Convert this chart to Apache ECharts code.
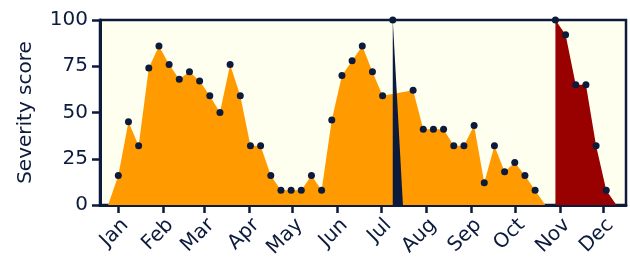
<!DOCTYPE html>
<html>
<head>
<meta charset="utf-8">
<script src="https://cdn.jsdelivr.net/npm/echarts@6/dist/echarts.min.js"></script>
<style>
  html, body { margin: 0; padding: 0; background: #ffffff; }
  #chart { width: 630px; height: 259px; }
</style>
</head>
<body>
<div id="chart"></div>
<script>
// weekly severity scores, week 0 = 1 Jan
const yearStart = new Date(2023, 0, 1).getTime();
const DAY = 24 * 3600 * 1000;

// weeks 0-41 (null where the spike takes over)
const regularScores = [16, 45, 32, 74, 86, 76, 68, 72, 67, 59, 50, 76, 59, 32, 32, 16, 8, 8, 8, 16, 8,
  46, 70, 78, 86, 72, 59, null, null, 62, 41, 41, 41, 32, 32, 43, 12, 32, 18, 23, 16, 8];
// single week spike, week 27
const spikeStart = 27;
const spikeScores = [100];
// late season, weeks 43-48
const lateStart = 43;
const lateScores = [100, 92, 65, 65, 32, 8];

const monthNames = ['Jan', 'Feb', 'Mar', 'Apr', 'May', 'Jun', 'Jul', 'Aug', 'Sep', 'Oct', 'Nov', 'Dec'];
const yTicks = [0, 25, 50, 75, 100];

const navy = '#0c1a3c';
const wk = i => yearStart + i * 7 * DAY;

// build [time, value] pairs
const regularData = [[wk(-1), 0]];
const dots = [];
regularScores.forEach((v, i) => {
  if (v !== null) { regularData.push([wk(i), v]); dots.push([wk(i), v]); }
});
regularData.push([wk(regularScores.length), 0]);

const spikeData = spikeScores.map((v, i) => [wk(spikeStart + i), v]);
spikeData.forEach(p => dots.push(p));
spikeData.push([wk(spikeStart + spikeScores.length), 0]);

const lateData = lateScores.map((v, i) => [wk(lateStart + i), v]);
lateData.forEach(p => dots.push(p));
lateData.push([wk(lateStart + lateScores.length), 0]);

const chart = echarts.init(document.getElementById('chart'));

function areaSeries(data, color) {
  return {
    type: 'line',
    data: data,
    showSymbol: false,
    symbol: 'none',
    lineStyle: { width: 0 },
    areaStyle: { color: color, opacity: 1 },
    silent: true,
    animation: false
  };
}

const font = 'DejaVu Sans';

chart.setOption({
  animation: false,
  grid: {
    left: 100, right: 4, top: 20, bottom: 54,
    outerBoundsMode: 'none',
    containLabel: false,
    show: true,
    backgroundColor: '#fffff0',
    borderColor: navy,
    borderWidth: 2.5
  },
  xAxis: {
    type: 'time',
    min: yearStart - 12.6 * DAY,
    max: yearStart + 349.6 * DAY,
    minInterval: 28 * DAY,
    maxInterval: 31 * DAY,
    splitLine: { show: false },
    axisLine: { lineStyle: { color: navy, width: 3 } },
    axisTick: { show: true, length: 8, lineStyle: { color: navy, width: 2.5 } },
    axisLabel: {
      rotate: 45,
      margin: 10,
      verticalAlign: 'top',
      color: navy,
      fontFamily: font,
      fontSize: 20,
      hideOverlap: false,
      formatter: v => monthNames[new Date(v).getMonth()]
    }
  },
  yAxis: {
    type: 'value',
    min: 0,
    max: 100,
    interval: 25,
    name: 'Severity score',
    nameLocation: 'middle',
    nameGap: 64,
    nameTextStyle: { color: navy, fontFamily: font, fontSize: 20 },
    splitLine: { show: false },
    axisLine: { show: true, lineStyle: { color: navy, width: 3 } },
    axisTick: { show: true, length: 8, lineStyle: { color: navy, width: 2.5 } },
    axisLabel: {
      margin: 12,
      color: navy,
      fontFamily: font,
      fontSize: 20,
      formatter: v => yTicks.includes(v) ? String(v) : ''
    }
  },
  series: [
    areaSeries(regularData, '#ff9a00'),
    areaSeries(spikeData, navy),
    areaSeries(lateData, '#990000'),
    {
      type: 'scatter',
      data: dots,
      symbolSize: 7,
      itemStyle: { color: navy, opacity: 1 },
      z: 5,
      animation: false
    }
  ]
});
</script>
</body>
</html>
